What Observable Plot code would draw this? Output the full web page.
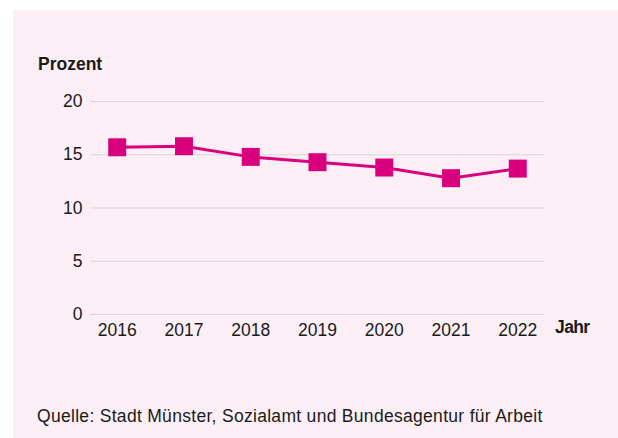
<!DOCTYPE html>
<html>
<head>
<meta charset="utf-8">
<script src="https://cdn.jsdelivr.net/npm/d3@7"></script>
<script src="https://cdn.jsdelivr.net/npm/@observablehq/plot@0.6"></script>
<style>
  html, body { margin: 0; padding: 0; background: #ffffff; }
  #wrap { position: relative; width: 618px; height: 438px; overflow: hidden; font-family: "Liberation Sans", Arial, sans-serif; color: #1a1a1a; }
  #panel { position: absolute; left: 13px; top: 10px; right: 0; bottom: 0; background: #fbeff5; }
  #chart { position: absolute; left: 0; top: 0; }
  .lbl { position: absolute; font-size: 17.5px; line-height: 1; white-space: nowrap; }
  .bold { font-weight: bold; }
</style>
</head>
<body>
<div id="wrap">
  <div id="panel"></div>
  <div id="chart"></div>
  <div class="lbl bold" style="left:38px; top:56px;">Prozent</div>
  <div class="lbl bold" style="left:555px; top:319px; letter-spacing:-0.6px;">Jahr</div>
  <div class="lbl" style="left:37px; top:408px; letter-spacing:0.3px;">Quelle: Stadt Münster, Sozialamt und Bundesagentur für Arbeit</div>
</div>
<script>
const years = ["2016", "2017", "2018", "2019", "2020", "2021", "2022"];
const values = [15.7, 15.8, 14.8, 14.3, 13.8, 12.8, 13.7];
const yTicks = [0, 5, 10, 15, 20];

const data = years.map((y, i) => ({year: y, value: values[i]}));
const magenta = "#d9007e";

const chart = Plot.plot({
  width: 618,
  height: 438,
  marginLeft: 90,
  marginRight: 74,
  marginTop: 101,
  marginBottom: 124,
  style: {
    fontFamily: "Liberation Sans, Arial, sans-serif",
    fontSize: "17.5px",
    background: "transparent",
    color: "#1a1a1a",
    overflow: "visible"
  },
  x: {type: "point", domain: years, padding: 0.4, round: false, label: null},
  y: {domain: [0, 20], ticks: yTicks, label: null},
  marks: [
    Plot.gridY(yTicks, {stroke: "#d8d3d8", strokeOpacity: 1, strokeWidth: 1}),
    Plot.axisY(yTicks, {tickSize: 0, tickPadding: 8, label: null, fontSize: 17.5}),
    Plot.axisX({tickSize: 0, tickPadding: 9, label: null, fontSize: 17.5}),
    Plot.line(data, {x: "year", y: "value", stroke: magenta, strokeWidth: 3}),
    Plot.dot(data, {x: "year", y: "value", symbol: "square", r: 10.15, fill: magenta, stroke: "none"})
  ]
});
document.getElementById("chart").appendChild(chart);
</script>
</body>
</html>
